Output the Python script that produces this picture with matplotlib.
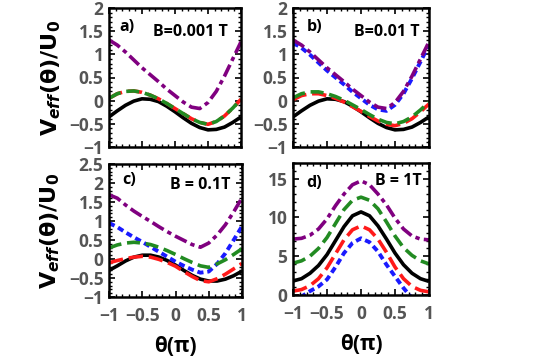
import matplotlib
matplotlib.use("Agg")
import matplotlib.pyplot as plt
from matplotlib.ticker import MultipleLocator, FuncFormatter

plt.rcParams['font.family'] = ['Open Sans', 'DejaVu Sans']
plt.rcParams['font.weight'] = 'bold'

theta = [-1, -0.875, -0.75, -0.625, -0.5, -0.375, -0.25, -0.125, 0,
         0.125, 0.25, 0.375, 0.5, 0.625, 0.75, 0.875, 1]

# Panel a) B = 0.001 T  (blue curve is fully hidden under purple here)
a_black = [-0.35, -0.22, -0.10, -0.01, 0.04, 0.03, -0.02, -0.12, -0.24,
           -0.37, -0.49, -0.58, -0.63, -0.62, -0.57, -0.47, -0.35]
a_green = [0.05, 0.15, 0.20, 0.21, 0.18, 0.12, 0.04, -0.06, -0.17,
           -0.28, -0.39, -0.47, -0.51, -0.45, -0.33, -0.16, 0.03]
a_red = [0.05, 0.15, 0.20, 0.21, 0.18, 0.12, 0.04, -0.06, -0.17,
         -0.28, -0.39, -0.47, -0.51, -0.45, -0.33, -0.16, 0.03]
a_purple = [1.31, 1.20, 1.05, 0.88, 0.71, 0.56, 0.41, 0.25, 0.11,
            -0.03, -0.14, -0.17, -0.04, 0.20, 0.53, 0.90, 1.27]

# Panel b) B = 0.01 T
b_black = [-0.35, -0.22, -0.10, -0.01, 0.04, 0.03, -0.02, -0.12, -0.24,
           -0.37, -0.49, -0.58, -0.63, -0.62, -0.57, -0.47, -0.35]
b_green = [0.06, 0.15, 0.19, 0.19, 0.15, 0.09, 0.01, -0.09, -0.19,
           -0.30, -0.40, -0.47, -0.50, -0.45, -0.35, -0.20, -0.03]
b_red = [0.02, 0.11, 0.15, 0.15, 0.11, 0.05, -0.03, -0.13, -0.23,
         -0.34, -0.44, -0.51, -0.54, -0.49, -0.39, -0.24, -0.07]
b_purple = [1.31, 1.20, 1.05, 0.88, 0.71, 0.56, 0.41, 0.25, 0.11,
            -0.03, -0.14, -0.17, -0.04, 0.20, 0.53, 0.90, 1.27]
b_blue = [1.25, 1.14, 0.99, 0.82, 0.65, 0.50, 0.35, 0.19, 0.05,
          -0.09, -0.19, -0.22, -0.09, 0.15, 0.48, 0.84, 1.21]

# Panel c) B = 0.1 T
c_black = [-0.30, -0.18, -0.05, 0.05, 0.10, 0.10, 0.05, -0.04, -0.16,
           -0.30, -0.43, -0.53, -0.58, -0.58, -0.53, -0.44, -0.32]
c_red = [-0.10, -0.04, 0.01, 0.05, 0.07, 0.05, -0.01, -0.09, -0.19,
         -0.33, -0.46, -0.57, -0.60, -0.52, -0.40, -0.26, -0.12]
c_green = [0.29, 0.37, 0.42, 0.44, 0.42, 0.38, 0.31, 0.22, 0.12,
           0.01, -0.09, -0.18, -0.22, -0.13, -0.02, 0.12, 0.27]
c_blue = [0.95, 0.84, 0.70, 0.57, 0.45, 0.32, 0.19, 0.06, -0.07,
          -0.18, -0.28, -0.36, -0.33, -0.13, 0.15, 0.50, 0.86]
c_purple = [1.69, 1.60, 1.42, 1.26, 1.12, 0.99, 0.85, 0.72, 0.60,
            0.49, 0.38, 0.31, 0.42, 0.63, 0.90, 1.24, 1.61]

# Panel d) B = 1 T
d_purple = [7.2, 7.3, 7.7, 8.5, 9.8, 11.5, 13.0, 14.2, 14.7,
            14.2, 13.0, 11.6, 9.9, 8.5, 7.6, 7.2, 7.1]
d_green = [4.1, 4.4, 5.0, 6.0, 7.4, 9.2, 11.0, 12.2, 12.6,
           12.2, 11.1, 9.4, 7.6, 6.1, 5.1, 4.4, 4.0]
d_black = [1.8, 2.1, 2.8, 3.8, 5.2, 7.0, 8.8, 10.2, 10.7,
           10.2, 8.9, 7.2, 5.4, 3.9, 2.8, 2.1, 1.75]
d_red = [0.5, 0.7, 1.2, 2.1, 3.5, 5.3, 7.1, 8.4, 8.9,
         8.4, 7.2, 5.5, 3.6, 2.1, 1.1, 0.6, 0.4]
d_blue = [-1.2, -0.2, 0.5, 1.1, 2.0, 3.6, 5.4, 6.7, 7.3,
          6.8, 5.6, 3.9, 2.4, 0.9, -0.4, -1.0, -1.2]

panels = [
    dict(tag='a)', title='B=0.001 T', data=(a_black, a_red, None, a_green, a_purple),
         ylim=(-1, 2), major=0.5, minor=0.1, tagpos=(0.08, 0.86), titlepos=(0.90, 0.83)),
    dict(tag='b)', title='B=0.01 T', data=(b_black, b_red, b_blue, b_green, b_purple),
         ylim=(-1, 2), major=0.5, minor=0.1, tagpos=(0.10, 0.86), titlepos=(0.93, 0.83)),
    dict(tag='c)', title='B = 0.1T', data=(c_black, c_red, c_blue, c_green, c_purple),
         ylim=(-1, 2.5), major=0.5, minor=0.1, tagpos=(0.10, 0.88), titlepos=(0.91, 0.84)),
    dict(tag='d)', title='B = 1T', data=(d_black, d_red, d_blue, d_green, d_purple),
         ylim=(0, 17), major=5, minor=1, tagpos=(0.10, 0.85), titlepos=(0.95, 0.86)),
]

W, H = 543, 364
fig = plt.figure(figsize=(W / 100, H / 100), dpi=100)

# pixel boxes (left, top, right, bottom)
boxes = [(109, 8, 241, 147), (293, 8, 429, 147), (109, 164, 242, 297), (293, 163, 429, 295)]

styles = [
    dict(color='black', ls='-', lw=2.6),
    dict(color='#ff1a1a', ls=(0, (4.0, 1.6)), lw=2.6),
    dict(color='#1a1aff', ls=(0, (1.6, 1.0)), lw=2.8),
    dict(color='#228b22', ls=(0, (3.6, 1.6)), lw=2.6),
    dict(color='#800080', ls=(0, (3.6, 1.2, 1.2, 1.2)), lw=2.6),
]

def fmt(v, pos):
    s = ('%g' % round(v, 3))
    return s.replace('-', '\u2212')

gray = '#555555'
axes = []
for i, (p, b) in enumerate(zip(panels, boxes)):
    l, t, r, bt = b
    ax = fig.add_axes([l / W, 1 - bt / H, (r - l) / W, (bt - t) / H])
    axes.append(ax)
    for y, st in zip(p['data'], styles):
        if y is None:
            continue
        ax.plot(theta, y, solid_capstyle='butt', dash_capstyle='butt', **st)
    ax.set_xlim(-1, 1)
    ax.set_ylim(*p['ylim'])
    ax.xaxis.set_major_locator(MultipleLocator(0.5))
    ax.xaxis.set_minor_locator(MultipleLocator(0.1))
    ax.yaxis.set_major_locator(MultipleLocator(p['major']))
    ax.yaxis.set_minor_locator(MultipleLocator(p['minor']))
    ax.xaxis.set_major_formatter(FuncFormatter(fmt))
    ax.yaxis.set_major_formatter(FuncFormatter(fmt))
    ax.tick_params(which='both', direction='in', top=True, right=True,
                   labelsize=12.5, labelcolor=gray, width=1.2)
    ax.tick_params(axis='y', which='major', pad=4)
    ax.tick_params(axis='x', which='major', pad=7)
    ax.tick_params(which='major', length=4.5)
    ax.tick_params(which='minor', length=2.2, width=1.0)
    for lab in ax.get_xticklabels() + ax.get_yticklabels():
        lab.set_fontweight('bold')
    for s in ax.spines.values():
        s.set_linewidth(1.8)
    if i < 2:
        ax.tick_params(labelbottom=False)
    else:
        ax.set_xlabel('\u03b8(\u03c0)', fontsize=15, fontweight='bold', labelpad=8)
    ax.text(p['tagpos'][0], p['tagpos'][1], p['tag'], transform=ax.transAxes, fontsize=11.5,
            fontweight='bold', va='center', ha='left')
    ax.text(p['titlepos'][0], p['titlepos'][1], p['title'], transform=ax.transAxes, fontsize=11.5,
            fontweight='bold', va='center', ha='right')

for ax in (axes[0], axes[2]):
    ax.set_ylabel(r'$\mathbf{V}_{\boldsymbol{eff}}\mathbf{(\theta)/U_0}$', fontsize=16)
    ax.yaxis.set_label_coords(-0.35, 0.5)

fig.savefig('out.png', dpi=100)
